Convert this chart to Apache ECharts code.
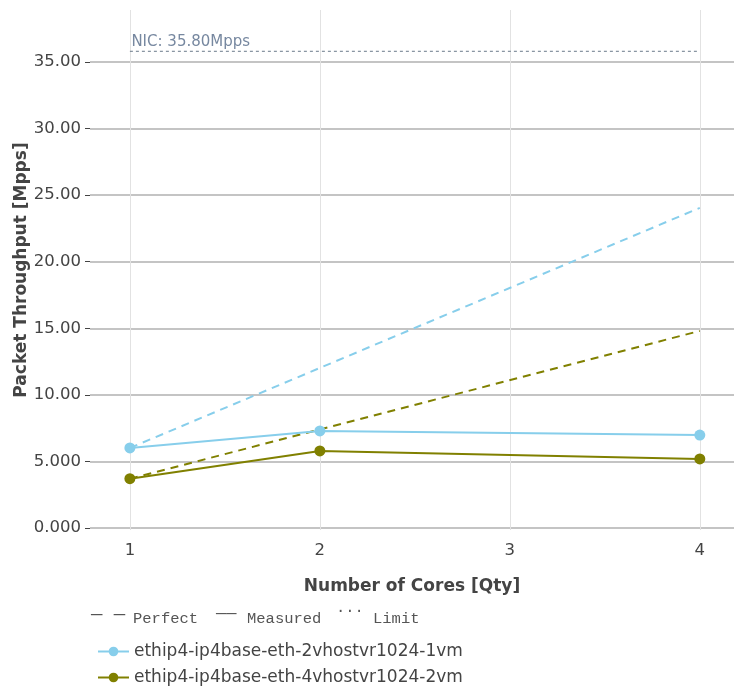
<!DOCTYPE html>
<html>
<head>
<meta charset="utf-8">
<script src="https://cdn.jsdelivr.net/npm/echarts@6/dist/echarts.min.js"></script>
<style>
html,body{margin:0;padding:0;background:#fff;}
#chart{width:734px;height:693px;}
</style>
</head>
<body>
<div id="chart"></div>
<script>
const cores = [1, 2, 4];
const xTicks = [1, 2, 3, 4];
const yTicks = [0, 5, 10, 15, 20, 25, 30, 35];
const yTickLabels = ['0.000', '5.000', '10.00', '15.00', '20.00', '25.00', '30.00', '35.00'];
const seriesNames = ['ethip4-ip4base-eth-2vhostvr1024-1vm', 'ethip4-ip4base-eth-4vhostvr1024-2vm'];
const measured1 = [6.01, 7.29, 6.98];
const measured2 = [3.70, 5.79, 5.19];
const perfect1 = [6.01, 12.02, 24.04];
const perfect2 = [3.70, 7.40, 14.80];
const nicLimit = 35.8;
const nicLabel = 'NIC: 35.80Mpps';
const colors = ['#87CEEB', '#808000'];

function pairs(xs, ys) { return xs.map((x, i) => [x, ys[i]]); }

const chart = echarts.init(document.getElementById('chart'), null, {renderer: 'canvas'});
const font = 'DejaVu Sans';
const mono = '"Liberation Mono"';
chart.setOption({
  animation: false,
  backgroundColor: '#fff',
  grid: {left: 90, right: 0, top: 10, bottom: 163, containLabel: false, outerBoundsMode: 'none'},
  xAxis: {
    type: 'value', min: 0.79, max: 4.18,
    name: 'Number of Cores [Qty]', nameLocation: 'middle', nameGap: 48, nameMoveOverlap: false,
    nameTextStyle: {fontFamily: font, fontSize: 17, fontWeight: 'bold', color: '#444'},
    axisLine: {show: false},
    axisTick: {show: false, customValues: xTicks},
    axisLabel: {customValues: xTicks, fontFamily: font, fontSize: 16.5, color: '#444', margin: 12},
    splitLine: {show: true, lineStyle: {color: '#e2e2e2', width: 1}}
  },
  yAxis: {
    type: 'value', min: -0.15, max: 38.9,
    name: 'Packet Throughput [Mpps]', nameLocation: 'middle', nameGap: 60, nameMoveOverlap: false,
    nameTextStyle: {fontFamily: font, fontSize: 17, fontWeight: 'bold', color: '#444'},
    axisLine: {show: false},
    axisTick: {show: true, customValues: yTicks, length: 5, lineStyle: {color: '#444'}},
    axisLabel: {customValues: yTicks, fontFamily: font, fontSize: 16.5, color: '#444', margin: 9,
      formatter: v => { const i = yTicks.indexOf(v); return i >= 0 ? yTickLabels[i] : ''; }},
    splitLine: {show: true, lineStyle: {color: '#b0b0b0', width: 1.5}}
  },
  legend: {
    data: seriesNames, orient: 'vertical', left: 92, top: 638, itemGap: 9,
    itemWidth: 31, itemHeight: 12,
    textStyle: {fontFamily: font, fontSize: 17, color: '#444'}
  },
  graphic: [
    {type: 'text', left: 91, top: 604, style: {text: '— —', font: '19px ' + mono, fill: '#555'}},
    {type: 'text', left: 133, top: 611, style: {text: 'Perfect', font: '15.5px ' + mono, fill: '#555'}},
    {type: 'text', left: 216, top: 605, style: {text: '——', font: '17px ' + mono, fill: '#555'}},
    {type: 'text', left: 247, top: 611, style: {text: 'Measured', font: '15.5px ' + mono, fill: '#555'}},
    {type: 'text', left: 336, top: 600, style: {text: '...', font: '15.5px ' + mono, fill: '#555'}},
    {type: 'text', left: 373, top: 611, style: {text: 'Limit', font: '15.5px ' + mono, fill: '#555'}}
  ],
  series: [
    {name: 'limit', type: 'line', data: [[1, nicLimit], [4, nicLimit]], symbol: 'none',
      lineStyle: {color: '#6a7a8a', width: 1, type: [3, 3]}, z: 3, silent: true,
      markPoint: {symbol: 'circle', symbolSize: 1, itemStyle: {color: 'rgba(0,0,0,0)'},
        data: [{coord: [1, nicLimit], label: {show: true, formatter: nicLabel, position: 'right', offset: [-4, -9], fontFamily: font, fontSize: 15, color: '#7788a0'}}]}},
    {name: 'p1', type: 'line', data: pairs(cores, perfect1), symbol: 'none',
      lineStyle: {color: colors[0], width: 2, type: [8, 6]}, z: 3},
    {name: 'p2', type: 'line', data: pairs(cores, perfect2), symbol: 'none',
      lineStyle: {color: colors[1], width: 2, type: [8, 6]}, z: 3},
    {name: seriesNames[0], type: 'line', data: pairs(cores, measured1), symbol: 'circle', symbolSize: 11,
      itemStyle: {color: colors[0]}, lineStyle: {color: colors[0], width: 2}, z: 4},
    {name: seriesNames[1], type: 'line', data: pairs(cores, measured2), symbol: 'circle', symbolSize: 11,
      itemStyle: {color: colors[1]}, lineStyle: {color: colors[1], width: 2}, z: 4}
  ]
});
</script>
</body>
</html>
